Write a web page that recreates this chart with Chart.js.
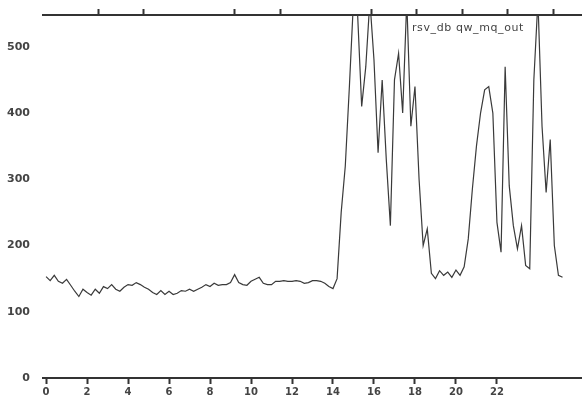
<!DOCTYPE html>
<html>
<head>
<meta charset="utf-8">
<script src="https://cdn.jsdelivr.net/npm/chart.js@4/dist/chart.umd.min.js"></script>
<style>
  html, body { margin: 0; padding: 0; background: #fff; }
  #wrap { position: relative; width: 582px; height: 407px; }
  #legend { position: absolute; left: 412px; top: 21px; font: 11px "DejaVu Sans", sans-serif; letter-spacing: 0.6px; color: #444; }
</style>
</head>
<body>
<div id="wrap">
  <canvas id="myChart" width="582" height="407"></canvas>
  <div id="legend">rsv_db qw_mq_out</div>
</div>
<script>
// samples every 0.2 h starting at hour 0
var startHour = 0;
var stepHour = 0.2;
var values = [
  153, 147, 155, 146, 143, 149, 140, 131, 123, 134,
  129, 125, 134, 128, 138, 135, 141, 134, 131, 137,
  141, 140, 144, 141, 137, 134, 129, 126, 132, 126,
  131, 126, 128, 132, 131, 134, 131, 134, 137, 141,
  138, 143, 140, 141, 141, 144, 156, 144, 141, 140,
  146, 149, 152, 143, 141, 141, 146, 146, 147, 146,
  146, 147, 146, 143, 144, 147, 147, 146, 143, 138,
  135, 150, 250, 320, 440, 570, 550, 410, 470, 570,
  480, 340, 450, 330, 230, 450, 490, 400, 570, 380,
  440, 300, 200, 225, 158, 150, 162, 155, 160, 152,
  163, 155, 168, 210, 285, 350, 400, 435, 440, 400,
  235, 190, 470, 290, 230, 195, 230, 170, 165, 450,
  570, 380, 280, 360, 200, 155, 152
];
var xTicks = [0, 2, 4, 6, 8, 10, 12, 14, 16, 18, 20, 22];
var topTicks = [1, 2, 4, 5, 7, 8, 9, 10, 11];
var yTicks = [0, 100, 200, 300, 400, 500];
var seriesName = "rsv_db qw_mq_out";

var points = values.map(function (v, i) {
  return { x: startHour + i * stepHour, y: v };
});

var ctx = document.getElementById("myChart").getContext("2d");

var myChart = new Chart(ctx, {
  type: "line",
  data: {
    datasets: [
      {
        label: seriesName,
        data: points,
        borderColor: "#3a3a3a",
        borderWidth: 1.2,
        pointRadius: 0,
        tension: 0,
        fill: false,
      },
    ],
  },
  options: {
    responsive: false,
    animation: false,
    layout: { padding: 0 },
    plugins: {
      legend: { display: false },
      tooltip: { enabled: false },
    },
    scales: {
      x: {
        type: "linear",
        position: "bottom",
        min: -0.15,
        max: 26.15,
        afterBuildTicks: function (axis) {
          axis.ticks = xTicks.map(function (v) { return { value: v }; });
        },
        afterFit: function (axis) { axis.height = 29; },
        grid: { drawOnChartArea: false, tickLength: 6, tickWidth: 2, tickColor: "#333" },
        border: { color: "#333", width: 2 },
        ticks: {
          font: { family: "DejaVu Sans", size: 10, weight: "bold" },
          color: "#444",
          padding: 2,
          maxRotation: 0,
          autoSkip: false,
        },
      },
      x2: {
        type: "linear",
        position: "top",
        min: -0.209,
        max: 11.637,
        afterBuildTicks: function (axis) {
          axis.ticks = topTicks.map(function (v) { return { value: v }; });
        },
        afterFit: function (axis) { axis.height = 15; },
        grid: { drawOnChartArea: false, tickLength: 6, tickWidth: 2, tickColor: "#333" },
        border: { color: "#333", width: 2 },
        ticks: { display: false },
      },
      y: {
        min: 0,
        max: 548,
        afterBuildTicks: function (axis) {
          axis.ticks = yTicks.map(function (v) { return { value: v }; });
        },
        afterFit: function (axis) { axis.width = 43; },
        grid: { display: false },
        border: { display: false },
        ticks: {
          font: { family: "DejaVu Sans", size: 11, weight: "bold" },
          color: "#444",
          padding: 5,
        },
      },
    },
  },
});
</script>
</body>
</html>
